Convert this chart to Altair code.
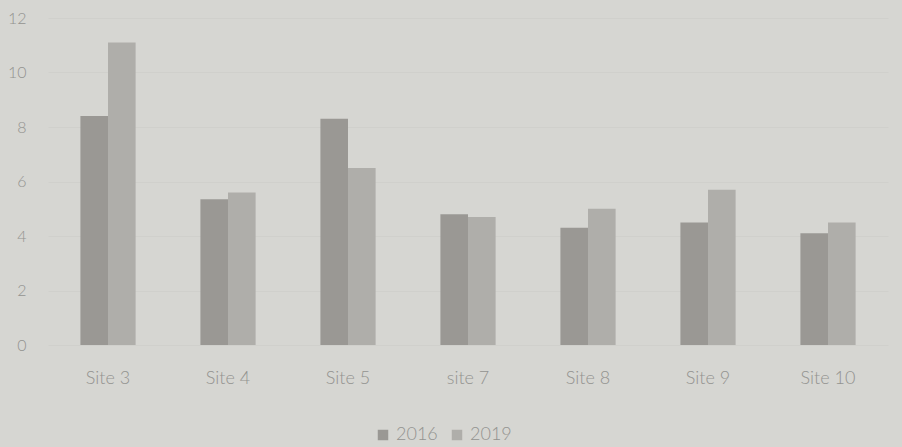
import altair as alt
import pandas as pd

sites = ["Site 3", "Site 4", "Site 5", "site 7", "Site 8", "Site 9", "Site 10"]
values_2016 = [8.4, 5.35, 8.3, 4.8, 4.3, 4.5, 4.1]
values_2019 = [11.1, 5.6, 6.5, 4.7, 5.0, 5.7, 4.5]
years = ["2016", "2019"]
y_ticks = [0, 2, 4, 6, 8, 10, 12]

rows = []
for site, a, b in zip(sites, values_2016, values_2019):
    rows.append({"site": site, "year": years[0], "value": a})
    rows.append({"site": site, "year": years[1], "value": b})
df = pd.DataFrame(rows)

font = "Lato"
text_color = "#939390"

chart = (
    alt.Chart(df)
    .mark_bar()
    .encode(
        x=alt.X(
            "site:N",
            sort=sites,
            title=None,
            scale=alt.Scale(paddingInner=0.54, paddingOuter=0.27),
            axis=alt.Axis(
                labelAngle=0,
                labelFontSize=18,
                labelFontWeight=300,
                labelPadding=24,
                labelColor=text_color,
                labelFont=font,
                domain=False,
                ticks=False,
                grid=False,
            ),
        ),
        xOffset=alt.XOffset("year:N", sort=years, scale=alt.Scale(paddingInner=0, paddingOuter=0)),
        y=alt.Y(
            "value:Q",
            title=None,
            scale=alt.Scale(domain=[0, 12], nice=False),
            axis=alt.Axis(
                values=y_ticks,
                labelFontSize=16,
                labelFontWeight=300,
                labelPadding=22,
                labelColor=text_color,
                labelFont=font,
                domain=False,
                ticks=False,
                grid=True,
                gridColor="#d0d0cc",
                gridWidth=1,
            ),
        ),
        color=alt.Color(
            "year:N",
            sort=years,
            scale=alt.Scale(domain=years, range=["#9a9894", "#afaeaa"]),
            legend=alt.Legend(
                title=None,
                orient="none",
                direction="horizontal",
                legendX=326,
                legendY=408,
                symbolType="square",
                symbolSize=110,
                symbolStrokeWidth=0,
                labelFontSize=18,
                labelFontWeight=300,
                labelColor=text_color,
                labelFont=font,
                columnPadding=10,
            ),
        ),
    )
    .properties(
        width=840,
        height=327,
        background="#d6d6d2",
        padding={"left": 48, "top": 18, "right": 14, "bottom": 102},
        autosize=alt.AutoSizeParams(type="none"),
    )
    .configure_view(stroke=None)
)

chart.save("out.html", embed_options={"renderer": "svg", "actions": False})
